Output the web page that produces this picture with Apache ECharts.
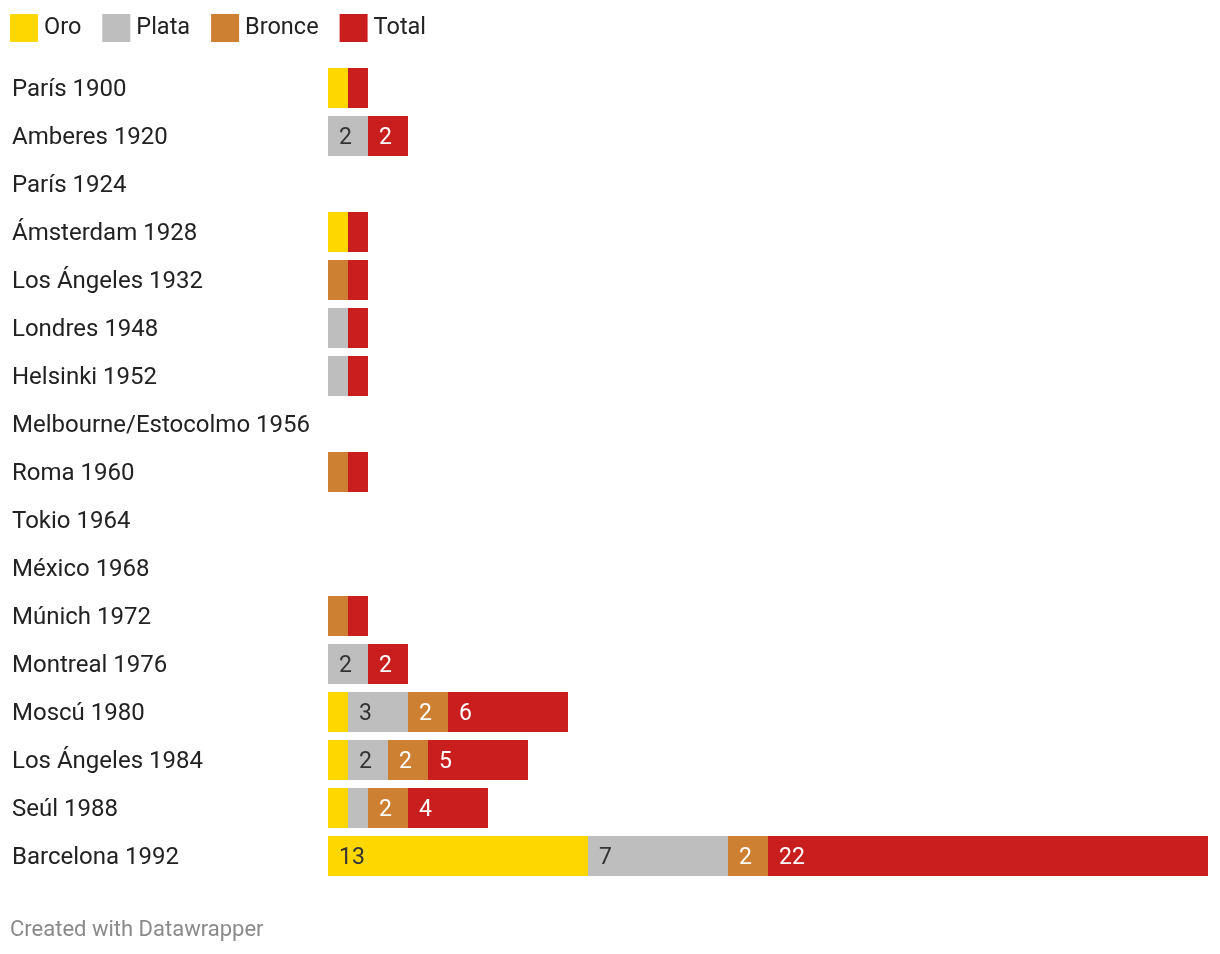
<!DOCTYPE html>
<html><head><meta charset="utf-8">
<script src="https://cdn.jsdelivr.net/npm/echarts@6/dist/echarts.min.js"></script>
<style>html,body{margin:0;padding:0;background:#fff}#c{width:1220px;height:954px}</style>
</head><body><div id="c"></div>
<script>
const categories = ["París 1900","Amberes 1920","París 1924","Ámsterdam 1928","Los Ángeles 1932","Londres 1948","Helsinki 1952","Melbourne/Estocolmo 1956","Roma 1960","Tokio 1964","México 1968","Múnich 1972","Montreal 1976","Moscú 1980","Los Ángeles 1984","Seúl 1988","Barcelona 1992"];
const oro    = [1,0,0,1,0,0,0,0,0,0,0,0,0,1,1,1,13];
const plata  = [0,2,0,0,0,1,1,0,0,0,0,0,2,3,2,1,7];
const bronce = [0,0,0,0,1,0,0,0,1,0,0,1,0,2,2,2,2];
const total  = [1,2,0,1,1,1,1,0,1,0,0,1,2,6,5,4,22];
const seriesNames = ["Oro","Plata","Bronce","Total"];
const colors = ["#FFD700","#BEBEBE","#CD7F32","#C91E1E"];
const labelColors = ["#333333","#333333","#ffffff","#ffffff"];
const values = [oro, plata, bronce, total];

const chart = echarts.init(document.getElementById('c'));
chart.setOption({
  animation:false,
  textStyle:{fontFamily:'Roboto'},
  legend:{left:5, top:9, itemWidth:28, itemHeight:28, itemGap:21, icon:'rect',
    textStyle:{fontSize:23.5, color:'#222', fontFamily:'Roboto', padding:[0,0,0,1]},
    data:seriesNames},
  grid:{left:328, right:12, top:64, bottom:74, containLabel:false},
  xAxis:{type:'value', min:0, max:44, show:false},
  yAxis:{type:'category', data:categories, inverse:true,
    axisLine:{show:false}, axisTick:{show:false},
    axisLabel:{align:'left', margin:316, fontFamily:'Roboto',
      formatter:v=>'{a|'+v+'}',
      rich:{a:{fontSize:24, color:'#222', fontFamily:'Roboto', padding:[4,0,0,0]}}}},
  graphic:[{type:'text', left:10, top:919, style:{text:'Created with Datawrapper', fontSize:22, fill:'#8a8a8a', fontFamily:'Roboto'}}],
  series: seriesNames.map((n,i)=>({
    name:n, type:'bar', stack:'s', data:values[i], barWidth:40, itemStyle:{color:colors[i]},
    label:{show:true, position:'insideLeft', distance:11, offset:[0,2], fontSize:23, color:labelColors[i], fontFamily:'Roboto',
      formatter:p=>p.value>=2?String(p.value):''}
  }))
});
</script></body></html>
